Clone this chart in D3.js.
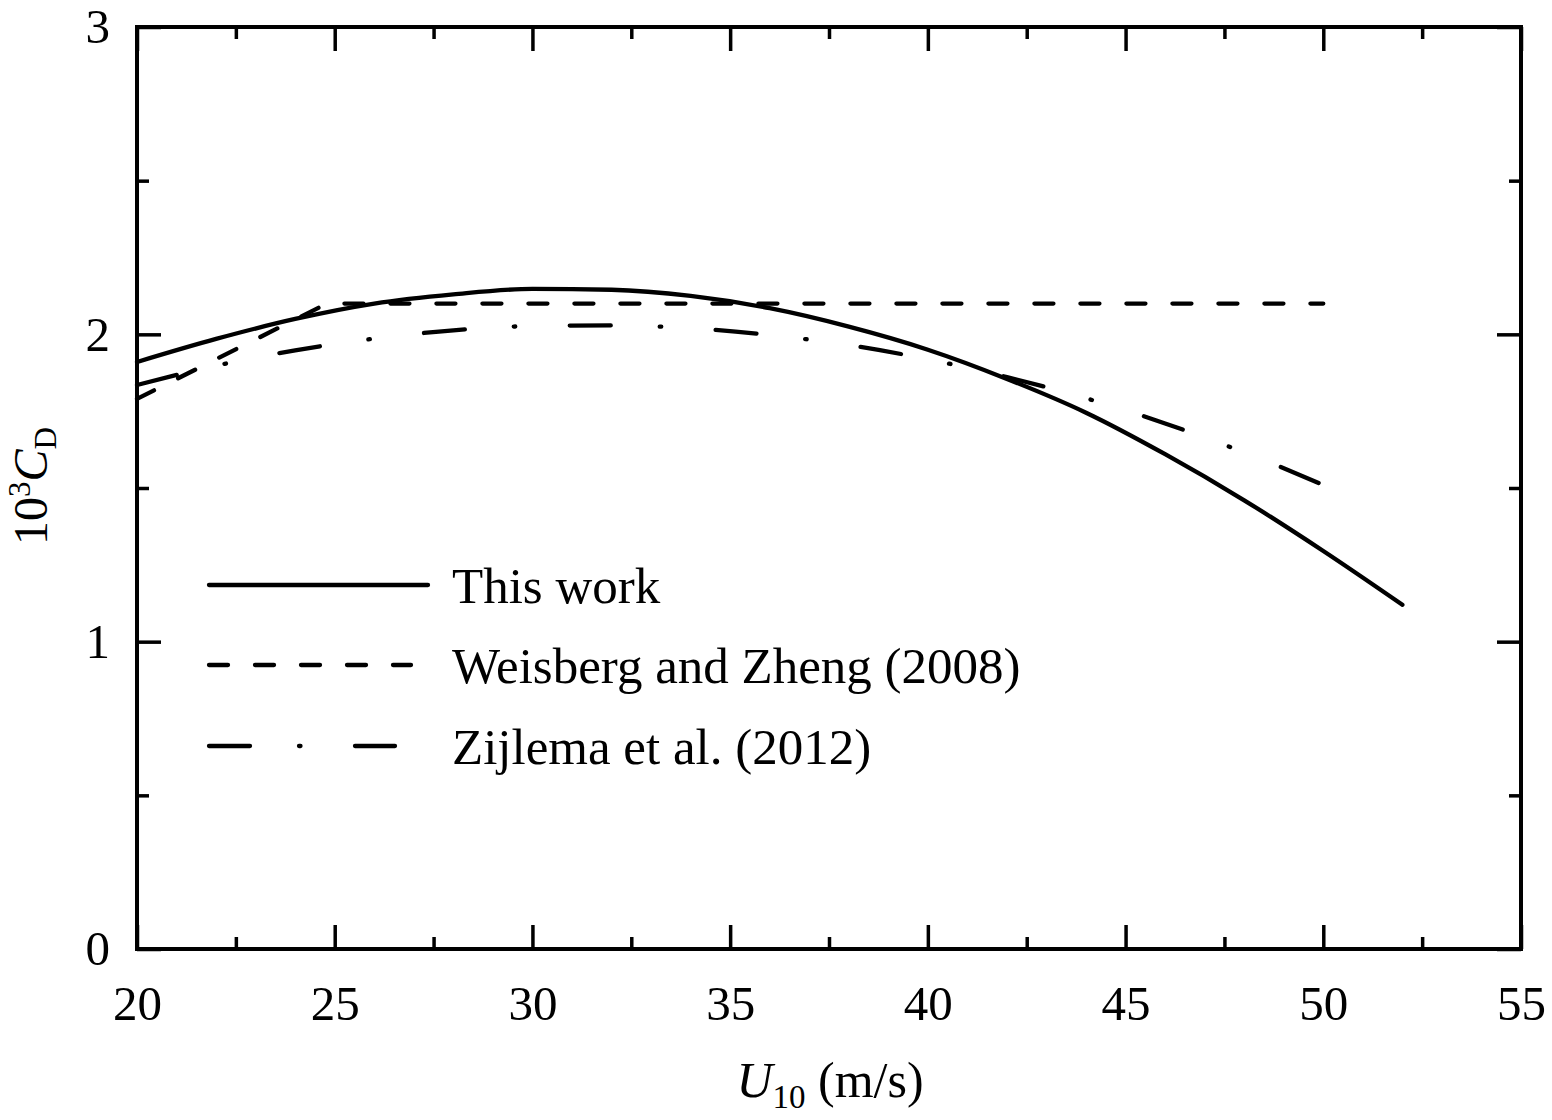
<!DOCTYPE html>
<html>
<head>
<meta charset="utf-8">
<script src="https://cdn.jsdelivr.net/npm/d3@7"></script>
<style>
  body { margin: 0; background: #fff; }
  text { font-family: "Liberation Serif", "Times New Roman", serif; fill: #000; }
</style>
</head>
<body>
<svg id="chart"></svg>
<script>
// ---------------- data ----------------
// wind speed U10 (m/s) and 10^3 Cd
const thisWorkU  = [20, 22, 24, 26, 28, 30, 32, 34, 36, 38, 40, 42, 44, 46, 48, 50, 52];
const thisWorkCd = [1.91, 1.985, 2.05, 2.10, 2.13, 2.148, 2.145, 2.125, 2.085, 2.025, 1.95, 1.855, 1.745, 1.61, 1.46, 1.295, 1.12];

const weisbergU  = [20, 24.8, 50];
const weisbergCd = [1.79, 2.10, 2.10];

const zijlemaU  = [20, 22, 24, 26, 28, 30, 32, 34, 36, 38, 40, 42, 44, 46, 48, 50];
const zijlemaCd = [1.835, 1.898, 1.948, 1.986, 2.013, 2.027, 2.029, 2.02, 1.998, 1.965, 1.919, 1.861, 1.792, 1.71, 1.616, 1.51];

const xMajor = [20, 25, 30, 35, 40, 45, 50, 55];
const xMinor = [22.5, 27.5, 32.5, 37.5, 42.5, 47.5, 52.5];
const yMajor = [0, 1, 2, 3];
const yMinor = [0.5, 1.5, 2.5];

const seriesNames = ["This work", "Weisberg and Zheng (2008)", "Zijlema et al. (2012)"];

// ---------------- layout ----------------
const width = 1552, height = 1120;
const plotLeft = 137, plotRight = 1521, plotTop = 27, plotBottom = 949;
const majorLen = 24, minorLen = 12;

const svg = d3.select("#chart")
  .attr("width", width)
  .attr("height", height);

const xScale = d3.scaleLinear().domain([20, 55]).range([plotLeft, plotRight]);
const yScale = d3.scaleLinear().domain([0, 3]).range([plotBottom, plotTop]);

// axes (ticks pointing inward)
function styleAxis(g) {
  g.select(".domain").remove();
  g.selectAll("line").attr("stroke", "#000").attr("stroke-width", 3.5);
  g.selectAll("text").style("font-size", "49px");
}

svg.append("g")
  .attr("transform", "translate(0," + plotBottom + ")")
  .call(d3.axisBottom(xScale).tickValues(xMajor).tickSizeInner(-majorLen).tickSizeOuter(0).tickPadding(36).tickFormat(d3.format("d")))
  .call(styleAxis);
svg.append("g")
  .attr("transform", "translate(0," + plotBottom + ")")
  .call(d3.axisBottom(xScale).tickValues(xMinor).tickSizeInner(-minorLen).tickSizeOuter(0).tickFormat(""))
  .call(styleAxis);
svg.append("g")
  .attr("transform", "translate(0," + plotTop + ")")
  .call(d3.axisTop(xScale).tickValues(xMajor).tickSizeInner(-majorLen).tickSizeOuter(0).tickFormat(""))
  .call(styleAxis);
svg.append("g")
  .attr("transform", "translate(0," + plotTop + ")")
  .call(d3.axisTop(xScale).tickValues(xMinor).tickSizeInner(-minorLen).tickSizeOuter(0).tickFormat(""))
  .call(styleAxis);

svg.append("g")
  .attr("transform", "translate(" + plotLeft + ",0)")
  .call(d3.axisLeft(yScale).tickValues(yMajor).tickSizeInner(-majorLen).tickSizeOuter(0).tickPadding(27).tickFormat(d3.format("d")))
  .call(styleAxis);
svg.append("g")
  .attr("transform", "translate(" + plotLeft + ",0)")
  .call(d3.axisLeft(yScale).tickValues(yMinor).tickSizeInner(-minorLen).tickSizeOuter(0).tickFormat(""))
  .call(styleAxis);
svg.append("g")
  .attr("transform", "translate(" + plotRight + ",0)")
  .call(d3.axisRight(yScale).tickValues(yMajor).tickSizeInner(-majorLen).tickSizeOuter(0).tickFormat(""))
  .call(styleAxis);
svg.append("g")
  .attr("transform", "translate(" + plotRight + ",0)")
  .call(d3.axisRight(yScale).tickValues(yMinor).tickSizeInner(-minorLen).tickSizeOuter(0).tickFormat(""))
  .call(styleAxis);

// frame
svg.append("rect")
  .attr("x", plotLeft).attr("y", plotTop)
  .attr("width", plotRight - plotLeft).attr("height", plotBottom - plotTop)
  .attr("fill", "none").attr("stroke", "#000").attr("stroke-width", 4);

// ---------------- curves ----------------
const styles = [
  { dash: null },
  { dash: "19,27" },
  { dash: "41,49,1.5,54.5" }
];

const series = [
  d3.zip(thisWorkU, thisWorkCd),
  d3.zip(weisbergU, weisbergCd),
  d3.zip(zijlemaU, zijlemaCd)
];

const line = d3.line()
  .x(d => xScale(d[0]))
  .y(d => yScale(d[1]));

series.forEach((s, i) => {
  svg.append("path")
    .datum(s)
    .attr("d", line.curve(i === 1 ? d3.curveLinear : d3.curveMonotoneX))
    .attr("fill", "none")
    .attr("stroke", "#000")
    .attr("stroke-width", 4.3)
    .attr("stroke-linecap", "round")
    .attr("stroke-dasharray", styles[i].dash);
});

// ---------------- legend ----------------
const legendY = [585, 665, 746];
const legendEnd = [428, 411, 395];
const legend = svg.append("g");
seriesNames.forEach((name, i) => {
  legend.append("line")
    .attr("x1", 209).attr("x2", legendEnd[i])
    .attr("y1", legendY[i]).attr("y2", legendY[i])
    .attr("stroke", "#000")
    .attr("stroke-width", 4.3)
    .attr("stroke-linecap", "round")
    .attr("stroke-dasharray", styles[i].dash);
  legend.append("text")
    .attr("x", 452)
    .attr("y", legendY[i] + 18)
    .style("font-size", "51px")
    .text(name);
});

// ---------------- axis titles ----------------
const xTitle = svg.append("text")
  .attr("x", 830).attr("y", 1097)
  .attr("text-anchor", "middle")
  .style("font-size", "50px");
xTitle.append("tspan").style("font-style", "italic").text("U");
xTitle.append("tspan").attr("dy", 11).style("font-size", "33px").text("10");
xTitle.append("tspan").attr("dy", -11).text(" (m/s)");

const yTitle = svg.append("text")
  .attr("transform", "translate(47,486) rotate(-90)")
  .attr("text-anchor", "middle")
  .style("font-size", "48px");
yTitle.append("tspan").text("10");
yTitle.append("tspan").attr("dy", -17).style("font-size", "31px").text("3");
yTitle.append("tspan").attr("dy", 17).style("font-style", "italic").text("C");
yTitle.append("tspan").attr("dy", 9).style("font-size", "31px").text("D");
</script>
</body>
</html>
